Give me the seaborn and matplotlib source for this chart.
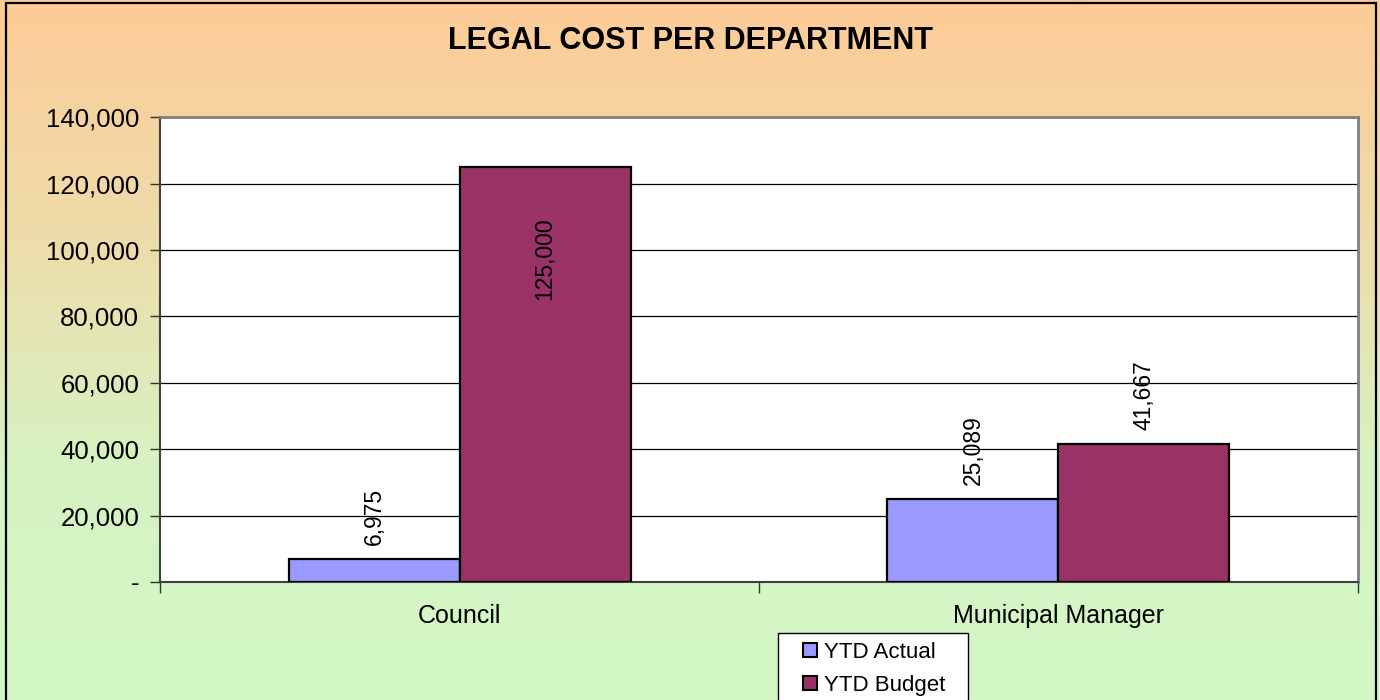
import numpy as np
import pandas as pd
import matplotlib
matplotlib.use("Agg")
import matplotlib.pyplot as plt
import matplotlib.ticker as mticker
from matplotlib.colors import LinearSegmentedColormap
from matplotlib.patches import Rectangle
from matplotlib.lines import Line2D
import seaborn as sns

# --- dados ---
departamentos = ["Council", "Municipal Manager"]
series = ["YTD Actual", "YTD Budget"]
ytd_actual = [6975, 25089]
ytd_budget = [125000, 41667]
cores = ["#9999FF", "#993366"]
y_ticks = [0, 20000, 40000, 60000, 80000, 100000, 120000, 140000]

df = pd.DataFrame({
    "dept": departamentos * 2,
    "serie": [series[0]] * 2 + [series[1]] * 2,
    "valor": ytd_actual + ytd_budget,
})

sns.set_style("white")
plt.rcParams["font.family"] = ["Liberation Sans", "DejaVu Sans"]
plt.rcParams["text.color"] = "black"
plt.rcParams["xtick.color"] = "black"
plt.rcParams["ytick.color"] = "black"
plt.rcParams["axes.labelcolor"] = "black"

fig = plt.figure(figsize=(13.8, 7), dpi=100)

# fundo em degradê (laranja -> verde)
bg = fig.add_axes([0, 0, 1, 1], zorder=-10)
cmap = LinearSegmentedColormap.from_list("fundo", ["#FDCB97", "#EEDCAA", "#D6F3C2", "#D3F7C6"])
bg.imshow(np.linspace(0, 1, 256).reshape(-1, 1), aspect="auto", cmap=cmap,
          extent=[0, 1, 0, 1], origin="upper")
bg.set_axis_off()
bg.add_patch(Rectangle((0.004, -0.01), 0.993, 1.006, transform=bg.transAxes,
                       fill=False, edgecolor="black", linewidth=1.6))

ax = fig.add_axes([0.116, 0.1686, 0.868, 0.664])
ax.set_facecolor("white")

sns.barplot(data=df, x="dept", y="valor", hue="serie", palette=cores,
            saturation=1, width=0.571, edgecolor="black", linewidth=1.6,
            ax=ax, zorder=3)

ax.set_ylim(0, 140000)
ax.set_xlim(-0.5, 1.5)
ax.set_yticks(y_ticks)
ax.yaxis.set_major_formatter(mticker.FuncFormatter(lambda v, p: "-" if v == 0 else f"{v:,.0f}"))
ax.grid(axis="y", color="black", linewidth=0.9, zorder=0)
ax.set_axisbelow(True)
ax.set_xlabel("")
ax.set_ylabel("")

ax.tick_params(axis="y", which="major", length=7, width=1, color="#333333",
               labelsize=18.5, pad=8, left=True, labelcolor="black")
ax.tick_params(axis="x", which="major", length=0, labelsize=18, pad=16, labelcolor="black")
ax.set_xticks([-0.5, 0.5, 1.5], minor=True)
ax.tick_params(axis="x", which="minor", length=8, width=1, color="#333333", bottom=True)

for lado in ["top", "right"]:
    ax.spines[lado].set_color("#808080")
    ax.spines[lado].set_linewidth(2)
for lado in ["left", "bottom"]:
    ax.spines[lado].set_color("#404040")
    ax.spines[lado].set_linewidth(1.5)

# rótulos dos valores (verticais)
for cont in ax.containers:
    for barra in cont:
        h = barra.get_height()
        xc = barra.get_x() + barra.get_width() / 2
        if h > 0.8 * ax.get_ylim()[1]:
            ax.annotate(f"{h:,.0f}", (xc, h), xytext=(0, -36), textcoords="offset points",
                        rotation=90, ha="center", va="top", fontsize=16.5, zorder=5)
        else:
            ax.annotate(f"{h:,.0f}", (xc, h), xytext=(0, 10), textcoords="offset points",
                        rotation=90, ha="center", va="bottom", fontsize=16.5, zorder=5)

if ax.get_legend() is not None:
    ax.get_legend().remove()
handles = [Line2D([], [], marker="s", linestyle="none", markersize=10,
                  markerfacecolor=c, markeredgecolor="black", markeredgewidth=1.5)
           for c in cores]
leg = fig.legend(handles, series, loc="upper left",
                 bbox_to_anchor=(0.5638, -0.2, 0.1377, 0.2957), mode="expand",
                 fontsize=16, frameon=True, fancybox=False, framealpha=1,
                 edgecolor="black", handlelength=2.1, handletextpad=-0.45,
                 labelspacing=0.55, borderpad=0.4, borderaxespad=0)
leg.get_frame().set_linewidth(1)

fig.text(0.5, 0.941, "LEGAL COST PER DEPARTMENT", ha="center", va="center",
         fontsize=22, fontweight="bold")

fig.savefig("out.png", dpi=100)
